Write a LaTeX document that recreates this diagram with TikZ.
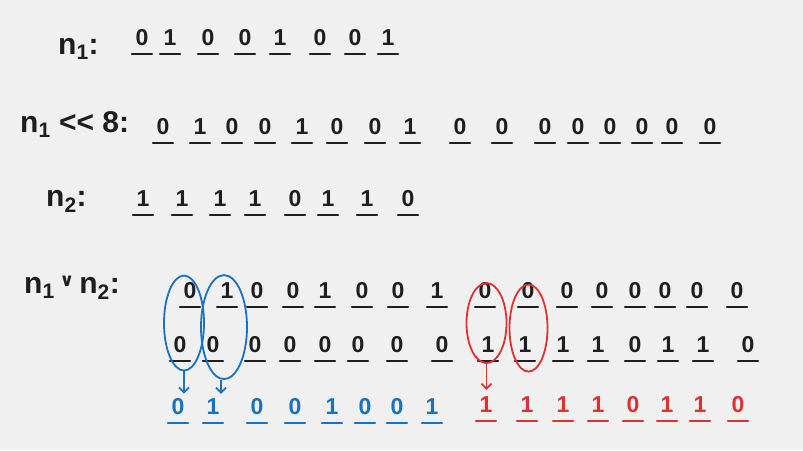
\documentclass[tikz,border=0pt]{standalone}
\usepackage{fontspec}
\setmainfont{Liberation Sans}
\newfontfamily\symfont{DejaVu Sans}
\usetikzlibrary{arrows.meta,shapes.geometric,calc}
\definecolor{ink}{HTML}{1E1E1E}
\definecolor{bgc}{HTML}{F0F0F0}
\definecolor{bl}{HTML}{1971C2}
\definecolor{rd}{HTML}{E03131}
% #1 name prefix, #2 baseline y, #3 colour, #4 list x/digit
\newcommand\drawbits[4]{%
  \foreach \x/\d [count=\i] in {#4} {
    \node[dg, text=#3, anchor=base] (#1\i) at (\x,#2) {\d};
    \draw[ul, draw=#3] ([xshift=-10pt,yshift=-9pt]#1\i.base) -- ([xshift=10pt,yshift=-9pt]#1\i.base);
  }%
}
\begin{document}
\begin{tikzpicture}[x=1pt,y=-1pt,
  dg/.style={font=\fontsize{23}{25}\selectfont\bfseries, inner sep=0pt},
  ul/.style={line width=2.4pt, line cap=round},
  lbl/.style={font=\fontsize{30}{32}\selectfont\bfseries, text=ink, inner sep=0pt, anchor=base west},
  loop/.style={ellipse, draw, line width=1.8pt, inner sep=0pt},
  pointer/.style={-{Straight Barb[length=5pt,width=10pt]}, line width=1.8pt}]
\fill[bgc] (0,0) rectangle (803,450);
\useasboundingbox (0,0) rectangle (803,450);

% labels
\node[lbl] (l1) at (58,54) {n\textsubscript{1}:};
\node[lbl] (l2) at (20,132) {n\textsubscript{1} {<}{<} 8:};
\node[lbl] (l3) at (46,206) {n\textsubscript{2}:};
\node[lbl] (l4) at (24,293) {n\textsubscript{1}\,\raisebox{7pt}{\symfont\fontsize{18}{20}\selectfont\bfseries ∨}\,n\textsubscript{2}:};

% n1
\drawbits{a}{45}{ink}{142/0,170/1,208/0,245/0,280/1,320/0,355/0,388/1}
% n1 << 8
\drawbits{b}{134}{ink}{163/0,200/1,232/0,265/0,302/1,337/0,375/0,410/1,460/0,502/0,545/0,578/0,610/0,642/0,672/0,710/0}
% n2
\drawbits{c}{206}{ink}{143/1,182/1,220/1,255/1,295/0,328/1,367/1,408/0}
% n1 v n2 operands
\drawbits{p}{298}{ink}{190/0,227/1,257/0,293/0,325/1,362/0,398/0,437/1,485/0,528/0,567/0,602/0,635/0,665/0,697/0,737/0}
\drawbits{q}{352}{ink}{180/0,213/0,255/0,290/0,325/0,358/0,397/0,442/0,488/1,525/1,563/1,598/1,635/0,668/1,703/1,748/0}
% result
\drawbits{s}{414}{bl}{178/0,213/1,257/0,295/0,332/1,365/0,397/0,432/1}
\drawbits{t}{412}{rd}{486/1,527/1,563/1,598/1,633/0,667/1,700/1,738/0}

% loops
\node[loop, draw=bl, minimum width=40pt, minimum height=95pt] (e1) at ($($(p1)!0.5!(q1)$)+(-1,6)$) {};
\node[loop, draw=bl, minimum width=46pt, minimum height=104pt] (e2) at ($($(p2)!0.5!(q2)$)+(4,10)$) {};
\node[loop, draw=rd, minimum width=40pt, minimum height=80pt] (e3) at ($($(p9)!0.5!(q9)$)+(0,6)$) {};
\node[loop, draw=rd, minimum width=38pt, minimum height=87pt] (e4) at ($($(p10)!0.5!(q10)$)+(2,11)$) {};

% arrows
\draw[pointer, draw=bl] (e1.south) -- ([yshift=4pt]e1.south |- s1.north);
\draw[pointer, draw=bl] ([xshift=-3pt]e2.south) -- ([xshift=-3pt,yshift=4pt]e2.south |- s2.north);
\draw[pointer, draw=rd] (e3.south) -- ([yshift=6pt]e3.south |- t1.north);
\end{tikzpicture}
\end{document}
